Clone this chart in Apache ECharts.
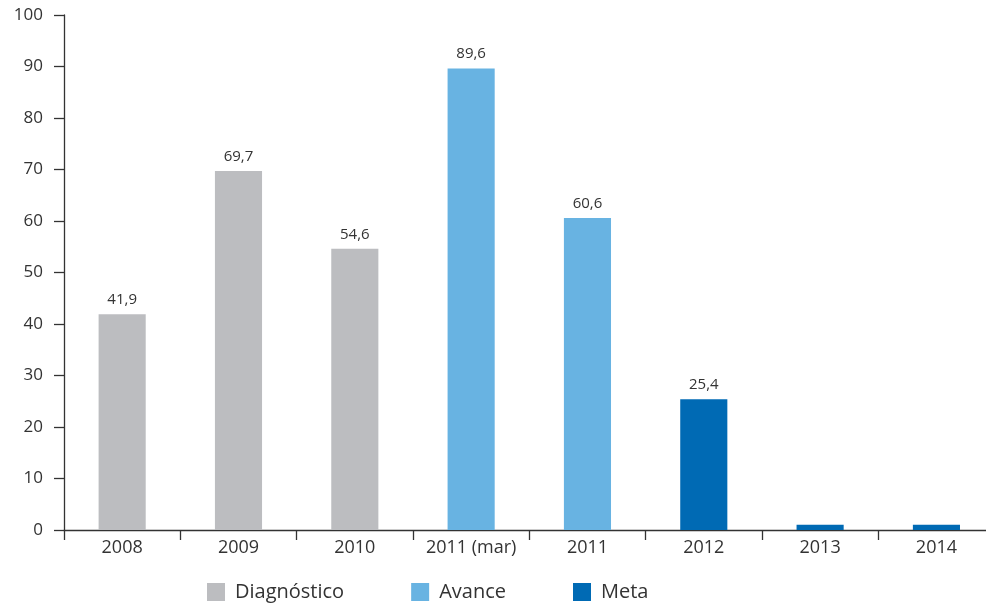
<!DOCTYPE html>
<html>
<head>
<meta charset="utf-8">
<script src="https://cdn.jsdelivr.net/npm/echarts@6/dist/echarts.min.js"></script>
<style>
html,body{margin:0;padding:0;background:#fff;}
#chart{width:986px;height:605px;}
</style>
</head>
<body>
<div id="chart"></div>
<script>
const categories = ['2008', '2009', '2010', '2011 (mar)', '2011', '2012', '2013', '2014'];
const diagnostico = [41.9, 69.7, 54.6, null, null, null, null, null];
const avance = [null, null, null, 89.6, 60.6, null, null, null];
const meta = [null, null, null, null, null, 25.4, 1, 1];
const yTicks = { min: 0, max: 100, interval: 10 };

const FONT = 'Open Sans';
const TXT = '#333333';

function fmt(p) {
  if (p.value == null || p.value < 5) return '';
  return String(p.value.toFixed(1)).replace('.', ',');
}

function mkSeries(name, data, color) {
  return {
    name: name,
    type: 'bar',
    stack: 'all',
    data: data,
    barWidth: '40.5%',
    itemStyle: { color: color },
    label: {
      show: true,
      position: 'top',
      distance: 7,
      formatter: fmt,
      color: TXT,
      fontFamily: FONT,
      fontSize: 15
    }
  };
}

const chart = echarts.init(document.getElementById('chart'), null, { renderer: 'canvas' });
chart.setOption({
  animation: false,
  backgroundColor: '#ffffff',
  grid: { left: 64, top: 15, width: 930.6, height: 515, containLabel: false, outerBoundsMode: 'none' },
  legend: {
    left: 207,
    top: 582,
    padding: 0,
    itemWidth: 18,
    itemHeight: 18,
    itemGap: 67,
    icon: 'rect',
    textStyle: { color: TXT, fontFamily: FONT, fontSize: 20, padding: [0, 0, 0, 5], lineHeight: 18 },
    data: ['Diagnóstico', 'Avance', 'Meta']
  },
  xAxis: {
    type: 'category',
    data: categories,
    axisLine: { lineStyle: { color: '#333', width: 1.3 } },
    axisTick: { show: true, length: 10, lineStyle: { color: '#333', width: 1.3 } },
    axisLabel: { color: TXT, fontFamily: FONT, fontSize: 18, margin: 9, interval: 0 }
  },
  yAxis: {
    type: 'value',
    min: yTicks.min,
    max: yTicks.max,
    interval: yTicks.interval,
    splitLine: { show: false },
    axisLine: { show: true, lineStyle: { color: '#333', width: 1.3 } },
    axisTick: { show: true, length: 10, lineStyle: { color: '#333', width: 1.3 } },
    axisLabel: { color: TXT, fontFamily: FONT, fontSize: 17, margin: 21 }
  },
  series: [
    mkSeries('Diagnóstico', diagnostico, '#BCBDC0'),
    mkSeries('Avance', avance, '#68B3E2'),
    mkSeries('Meta', meta, '#006AB4')
  ]
});
</script>
</body>
</html>
